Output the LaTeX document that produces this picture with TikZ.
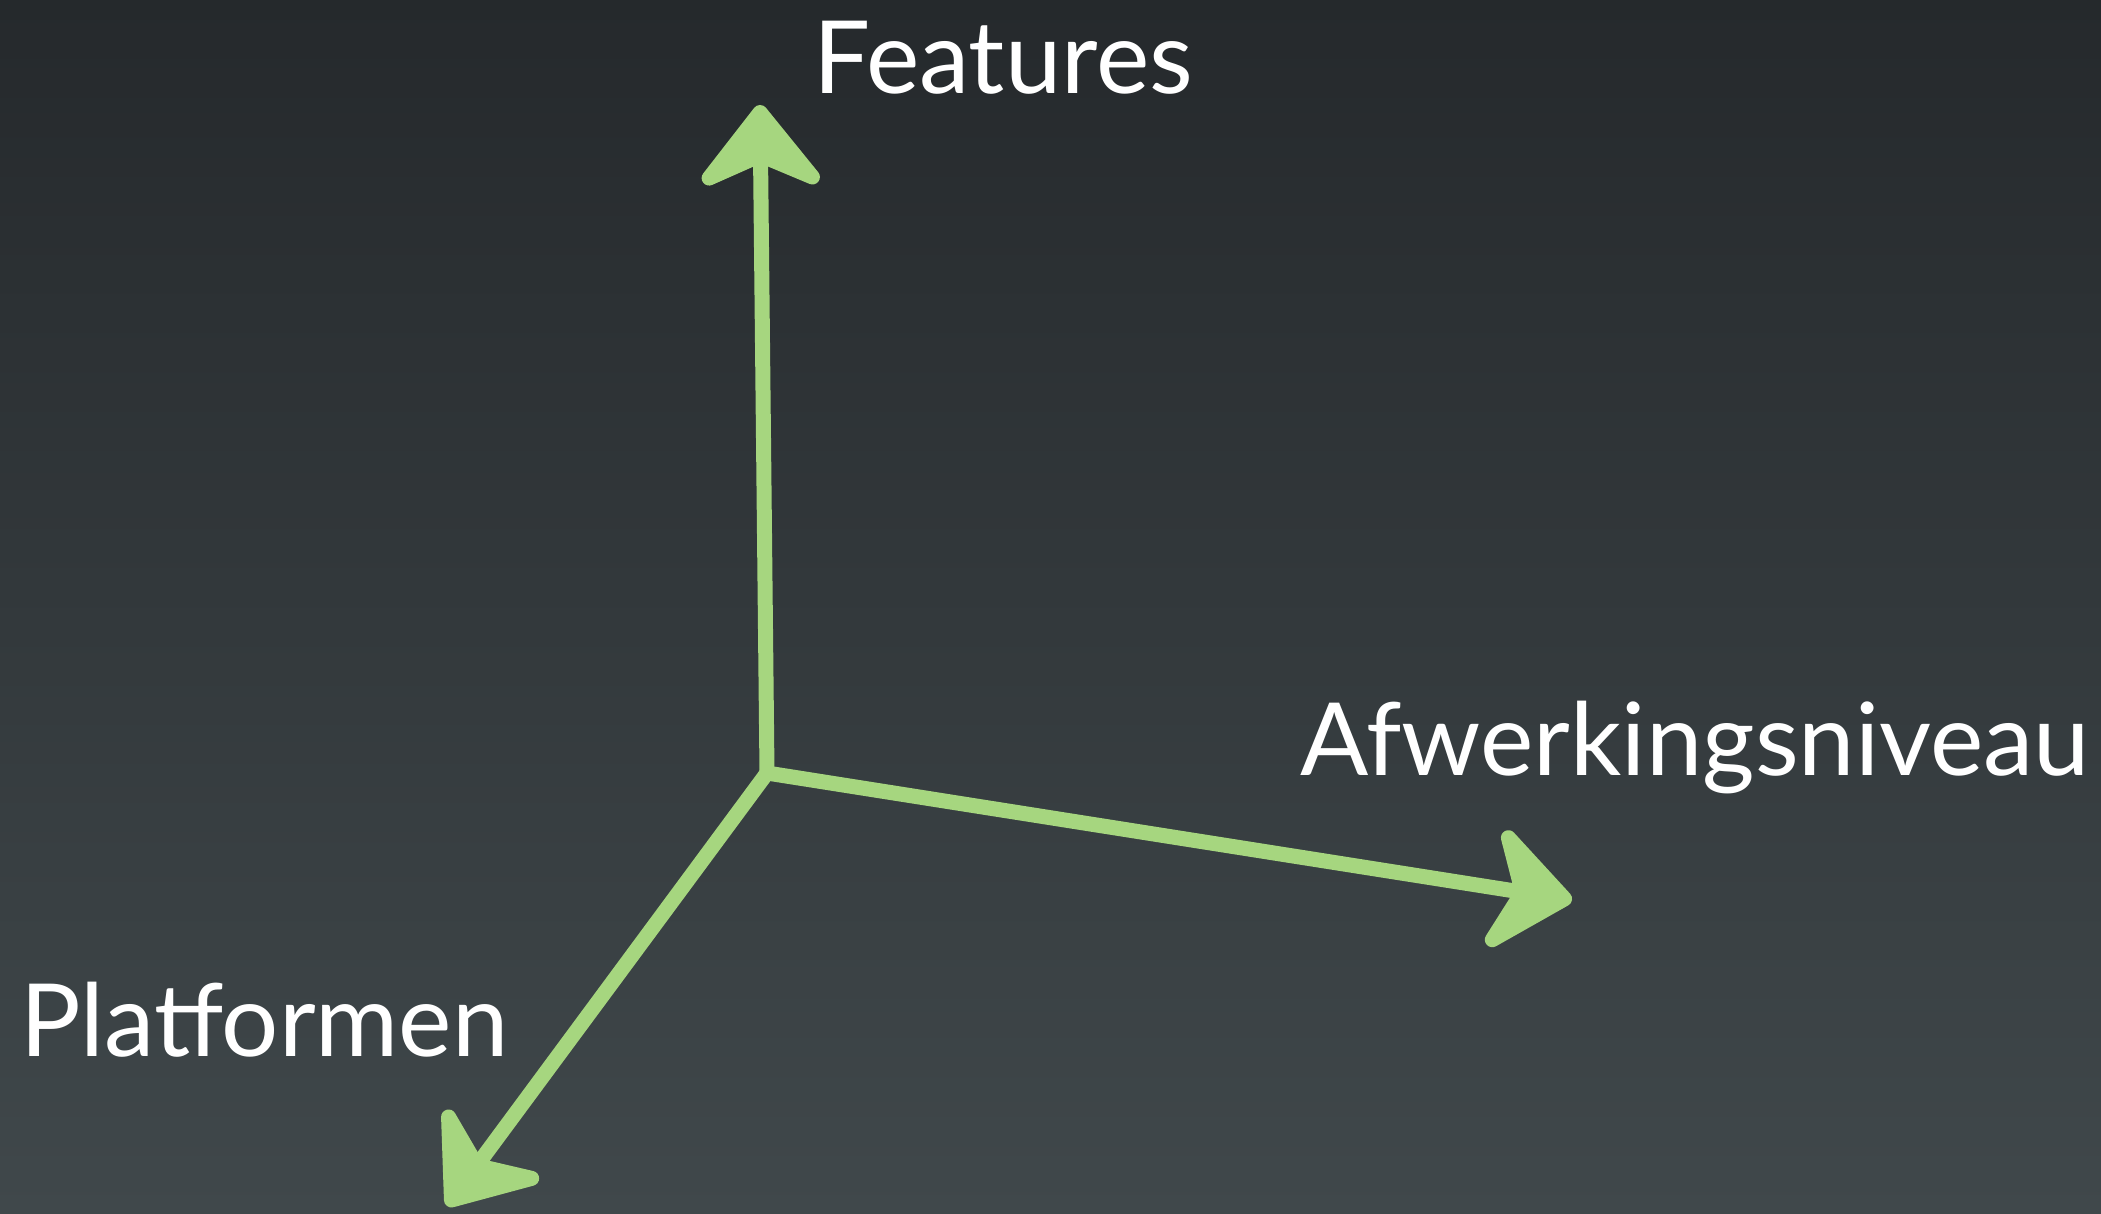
\documentclass[tikz,border=0pt]{standalone}
\usepackage{fontspec}
\setmainfont{Lato}
\usetikzlibrary{arrows.meta}
\definecolor{chalk}{HTML}{A6D67F}
\definecolor{boardtop}{HTML}{25292C}
\definecolor{boardbottom}{HTML}{40484B}
\tikzset{
  axislabel/.style = {text=white, inner sep=0pt, font=\fontsize{101}{112}\selectfont},
  ChalkAxis/.style = {draw=chalk, line width=15pt, line cap=round,
      -{Stealth[length=95pt, width=150pt, inset=32pt, round]}}
}
\begin{document}
\begin{tikzpicture}[x=1pt, y=-1pt]
  \shade [top color=boardtop, bottom color=boardbottom] (0,0) rectangle (2101,1214);
  \useasboundingbox (0,0) rectangle (2101,1214);
  % axes
  \coordinate (origin) at (767,773);
  \coordinate (featTip) at (760,105);
  \coordinate (afwTip) at (1572,900);
  \coordinate (platTip) at (447,1206);
  \draw [ChalkAxis] (origin) -- (featTip);
  \draw [ChalkAxis] (origin) -- (afwTip);
  \draw [ChalkAxis] (origin) -- (platTip);
  % labels
  \node [axislabel, anchor=base west] (features) at (813,94) {Features};
  \node [axislabel, anchor=base west] (afwerking) at (1300,775) {Afwerkingsniveau};
  \node [axislabel, anchor=base west] (platformen) at (20,1056) {Platformen};
\end{tikzpicture}
\end{document}
